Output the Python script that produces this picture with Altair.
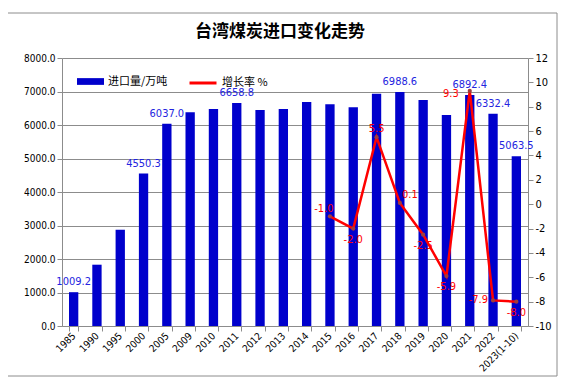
import altair as alt
import pandas as pd

# ---------------- data ----------------
CATEGORIES = ["1985", "1990", "1995", "2000", "2005", "2009", "2010", "2011", "2012",
              "2013", "2014", "2015", "2016", "2017", "2018", "2019", "2020", "2021",
              "2022", "2023(1-10)"]
IMPORTS = [1009.2, 1830.0, 2870.0, 4550.3, 6037.0, 6380.0, 6480.0, 6658.8, 6450.0,
           6480.0, 6690.0, 6620.0, 6530.0, 6930.0, 6988.6, 6750.0, 6300.0, 6892.4,
           6332.4, 5063.5]
LABELED_YEARS = ["1985", "2000", "2005", "2011", "2018", "2021", "2022", "2023(1-10)"]

GROWTH_YEARS = ["2015", "2016", "2017", "2018", "2019", "2020", "2021", "2022", "2023(1-10)"]
GROWTH = [-1.0, -2.0, 5.5, 0.1, -2.5, -5.9, 9.3, -7.9, -8.0]
GROWTH_LABEL_POS = ["upleft", "below", "above", "upright", "below", "below", "leftlow", "left", "below"]

SERIES_BAR = "进口量/万吨"
SERIES_LINE = "增长率 %"
TITLE = "台湾煤炭进口变化走势"

# ---------------- styles ----------------
BAR_COLOR = "#0000CC"
BAR_LABEL_COLOR = "#2424E0"
LINE_COLOR = "#FF0000"
POINT_COLOR = "#A03C3C"
GRID = "#8C8C8C"
NUM_FONT = "DejaVu Sans Condensed, Liberation Sans, sans-serif"
CJK_FONT = "Noto Sans CJK SC"

bars_df = pd.DataFrame({"year": CATEGORIES, "imports": IMPORTS})
bars_df["series"] = SERIES_BAR
bars_df["label"] = [f"{v:.1f}" if c in LABELED_YEARS else "" for c, v in zip(CATEGORIES, IMPORTS)]

growth_df = pd.DataFrame({"year": GROWTH_YEARS, "growth": GROWTH, "pos": GROWTH_LABEL_POS})
growth_df["series"] = SERIES_LINE
growth_df["label"] = [f"{v:.1f}" for v in GROWTH]

x_scale = alt.Scale(domain=CATEGORIES, paddingInner=0.6, paddingOuter=0.3)
x_axis = alt.X(
    "year:N",
    sort=CATEGORIES,
    scale=x_scale,
    axis=alt.Axis(
        title=None, labelAngle=-45, labelAlign="right", labelBaseline="middle",
        tickBand="extent", tickSize=5, tickColor=GRID, domainColor=GRID,
        labelFont=NUM_FONT, labelFontSize=10, labelColor="#000000", labelPadding=3,
    ),
)

left_scale = alt.Scale(domain=[0, 8000], nice=False)
y_left = alt.Y(
    "imports:Q",
    scale=left_scale,
    axis=alt.Axis(
        title=None, values=list(range(0, 8001, 1000)), format=".1f", orient="left",
        grid=True, gridColor=GRID, gridOpacity=1, domainColor=GRID, tickColor=GRID,
        tickSize=5, labelFont=NUM_FONT, labelFontSize=10, labelColor="#000000",
        labelPadding=2,
    ),
)

bars = alt.Chart(bars_df).mark_bar().encode(
    x=x_axis,
    y=y_left,
    color=alt.Color(
        "series:N",
        scale=alt.Scale(domain=[SERIES_BAR], range=[BAR_COLOR]),
        legend=alt.Legend(
            title=None, orient="none", legendX=15, legendY=10,
            symbolType="M-1,-0.25H1V0.25H-1Z", symbolSize=729,
            symbolStrokeWidth=0, symbolOpacity=1,
            labelFont=CJK_FONT, labelFontSize=11, labelColor="#000000", labelOffset=4,
        ),
    ),
)

bar_labels = alt.Chart(bars_df).mark_text(
    font=NUM_FONT, fontSize=11, color=BAR_LABEL_COLOR, baseline="middle", dy=-10
).encode(x=x_axis, y=alt.Y("imports:Q", scale=left_scale, axis=None), text="label:N")

y_right_scale = alt.Scale(domain=[-10, 12], nice=False)
y_right = alt.Y(
    "growth:Q",
    scale=y_right_scale,
    axis=alt.Axis(
        title=None, orient="right", values=list(range(-10, 13, 2)),
        labelExpr="'' + datum.value", grid=False, domainColor=GRID, tickColor=GRID,
        tickSize=5, labelFont=NUM_FONT, labelFontSize=11, labelColor="#000000",
        labelPadding=2,
    ),
)

line = alt.Chart(growth_df).mark_line(strokeWidth=2.5).encode(
    x=x_axis,
    y=y_right,
    stroke=alt.Stroke(
        "series:N",
        scale=alt.Scale(domain=[SERIES_LINE], range=[LINE_COLOR]),
        legend=alt.Legend(
            title=None, orient="none", legendX=126, legendY=10,
            symbolType="stroke", symbolSize=729, symbolStrokeWidth=3,
            labelFont=CJK_FONT, labelFontSize=11, labelColor="#000000", labelOffset=4,
        ),
    ),
)

points = alt.Chart(growth_df).mark_circle(size=18, color=POINT_COLOR, opacity=1).encode(
    x=x_axis, y=alt.Y("growth:Q", scale=y_right_scale, axis=None)
)


def glabels(pos, **kw):
    return alt.Chart(growth_df).transform_filter(
        alt.datum.pos == pos
    ).mark_text(font=NUM_FONT, fontSize=11, color=LINE_COLOR, **kw).encode(
        x=x_axis, y=alt.Y("growth:Q", scale=y_right_scale, axis=None), text="label:N"
    )


growth_labels = [
    glabels("upleft", dx=-6, dy=-7, baseline="middle"),
    glabels("below", dy=11, baseline="middle"),
    glabels("above", dy=-8, baseline="middle"),
    glabels("upright", dx=10, dy=-8, baseline="middle"),
    glabels("left", dx=-5, align="right", baseline="middle"),
    glabels("leftlow", dx=-11, dy=3, align="right", baseline="middle"),
]

# decorations: chart frame and title text
deco = alt.Data(values=[{"t": TITLE}])
frame = alt.Chart(deco).mark_rect(
    fillOpacity=0, stroke="#8C8C8C", strokeWidth=1
).encode(x=alt.value(-55), x2=alt.value(495), y=alt.value(-45), y2=alt.value(318))
title = alt.Chart(deco).mark_text(
    font=CJK_FONT, fontSize=17, fontWeight="bold", color="#000000",
    align="center", baseline="middle"
).encode(x=alt.value(218), y=alt.value(-26), text="t:N")

chart = alt.layer(
    bars, line, bar_labels, points, *growth_labels, frame, title
).resolve_scale(
    y="independent", color="independent", stroke="independent"
).properties(
    width=466,
    height=268,
    padding={"left": 54, "top": 50, "right": 33, "bottom": 52},
    autosize=alt.AutoSizeParams(type="none"),
).configure_view(stroke=None)

chart.save("out.html", embed_options={"renderer": "svg", "actions": False})
